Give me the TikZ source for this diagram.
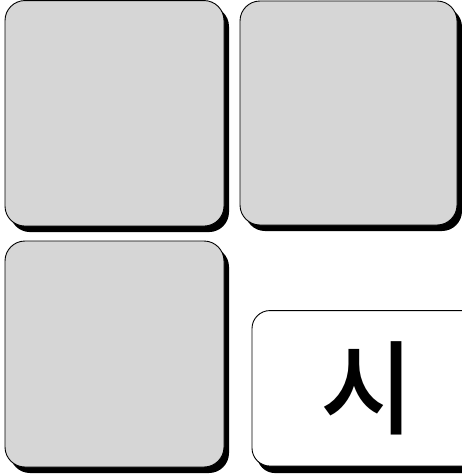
\documentclass[tikz,border=0pt]{standalone}
\usepackage{fontspec}
\newfontfamily\krfont{Noto Sans CJK KR}[UprightFont=* Medium]
\usepackage{tikz}
\usetikzlibrary{shadows}
\definecolor{tilegray}{RGB}{214,214,214}

\begin{document}
\begin{tikzpicture}[x=1pt, y=-1pt]
				% Styles
				\tikzstyle{tile} = [draw, fill=tilegray, rectangle, rounded corners=20pt, inner sep=0pt, outer sep=0pt, line width=0.9pt, drop shadow={shadow xshift=5pt, shadow yshift=-6pt, fill=black, opacity=1}]
				\tikzstyle{sign} = [draw, fill=white, rectangle, rounded corners=18pt, inner sep=0pt, outer sep=0pt, line width=0.9pt, font=\krfont\fontsize{102}{102}\selectfont, drop shadow={shadow xshift=5pt, shadow yshift=-7pt, fill=black, opacity=1}]

				\clip (0,0) rectangle (462,474);

				% Nodes
				\node (tileA) [tile, minimum width=219pt, minimum height=225.5pt] at (114.5,113.3) {};
				\node (tileB) [tile, minimum width=217pt, minimum height=224pt] at (348.5,113) {};
				\node (tileC) [tile, minimum width=219pt, minimum height=226pt] at (114.5,354) {};
				\node (sign) [sign, minimum width=230pt, minimum height=155.5pt] at (367,388.3) {시};

			\end{tikzpicture}
\end{document}
